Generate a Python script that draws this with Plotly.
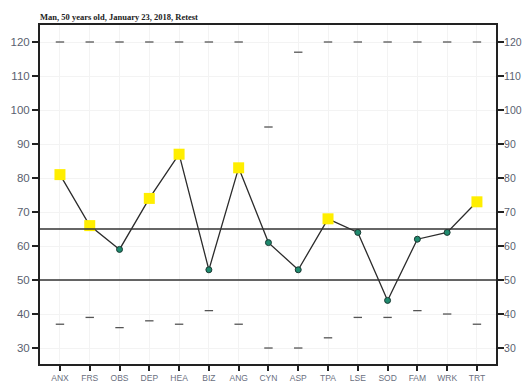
import plotly.graph_objects as go

categories = ["ANX", "FRS", "OBS", "DEP", "HEA", "BIZ", "ANG", "CYN", "ASP", "TPA", "LSE", "SOD", "FAM", "WRK", "TRT"]
scores = [81, 66, 59, 74, 87, 53, 83, 61, 53, 68, 64, 44, 62, 64, 73]
upper_marks = [120, 120, 120, 120, 120, 120, 120, 95, 117, 120, 120, 120, 120, 120, 120]
lower_marks = [37, 39, 36, 38, 37, 41, 37, 30, 30, 33, 39, 39, 41, 40, 37]
ref_lines = [65, 50]
cutoff = 65
y_ticks = [30, 40, 50, 60, 70, 80, 90, 100, 110, 120]
title_text = "Man, 50 years old, January 23, 2018, Retest"

xi = list(range(len(categories)))
hi_x = [i for i, v in zip(xi, scores) if v > cutoff]
hi_y = [v for v in scores if v > cutoff]
lo_x = [i for i, v in zip(xi, scores) if v <= cutoff]
lo_y = [v for v in scores if v <= cutoff]

# page body has an 8px default margin, so the figure is sized to fill the rest
W, H = 522, 375

fig = go.Figure()
for r in ref_lines:
    fig.add_hline(y=r, line=dict(color="#333333", width=1.6))

fig.add_trace(go.Scatter(x=xi, y=upper_marks, mode="markers",
                         marker=dict(symbol="line-ew", size=6, line=dict(color="#555555", width=1.3)),
                         showlegend=False))
fig.add_trace(go.Scatter(x=xi, y=lower_marks, mode="markers",
                         marker=dict(symbol="line-ew", size=6, line=dict(color="#555555", width=1.3)),
                         showlegend=False))
fig.add_trace(go.Scatter(x=xi, y=scores, mode="lines",
                         line=dict(color="#2b2b2b", width=1.3), showlegend=False))
fig.add_trace(go.Scatter(x=hi_x, y=hi_y, mode="markers",
                         marker=dict(symbol="square", size=11, color="#ffee00", line=dict(width=0)),
                         showlegend=False))
fig.add_trace(go.Scatter(x=lo_x, y=lo_y, mode="markers",
                         marker=dict(symbol="circle", size=6, color="#1f8a6e",
                                     line=dict(color="#1a3a33", width=1)),
                         showlegend=False))
# invisible trace for right axis
fig.add_trace(go.Scatter(x=[xi[0]], y=[scores[0]], yaxis="y2", mode="markers",
                         marker=dict(opacity=0), showlegend=False, hoverinfo="skip"))

fig.update_layout(
    width=W, height=H,
    margin=dict(l=32, r=34, t=17, b=19, autoexpand=False),
    paper_bgcolor="white", plot_bgcolor="white",
    title=dict(text="<b>" + title_text + "</b>", x=32/W, xanchor="left", y=1 - 9/H, yanchor="middle",
               font=dict(family="Liberation Serif", size=8.5, color="#222")),
    xaxis=dict(range=[-0.67, 14.64], tickmode="array", tickvals=xi, ticktext=categories,
               showline=True, linecolor="#222", linewidth=2, mirror=True, automargin=False,
               ticks="outside", ticklen=5, tickwidth=2, tickcolor="#222", ticklabelstandoff=0,
               tickfont=dict(family="Liberation Sans", size=8.5, color="#6a6f80"),
               showgrid=True, gridcolor="#f3f3f3", zeroline=False),
    yaxis=dict(range=[25.3, 125], tickvals=y_ticks, automargin=False,
               showline=True, linecolor="#222", linewidth=2,
               ticks="outside", ticklen=6, tickwidth=2, tickcolor="#222",
               tickfont=dict(family="Liberation Sans", size=11.5, color="#5a5f70"),
               showgrid=True, gridcolor="#f3f3f3", zeroline=False),
    yaxis2=dict(range=[25.3, 125], tickvals=y_ticks, overlaying="y", side="right", automargin=False,
                showline=True, linecolor="#222", linewidth=2,
                ticks="outside", ticklen=6, tickwidth=2, tickcolor="#222", ticklabelstandoff=-2,
                tickfont=dict(family="Liberation Sans", size=10.5, color="#5a5f70"),
                showgrid=False, zeroline=False),
)

fig.write_html("out.html")
